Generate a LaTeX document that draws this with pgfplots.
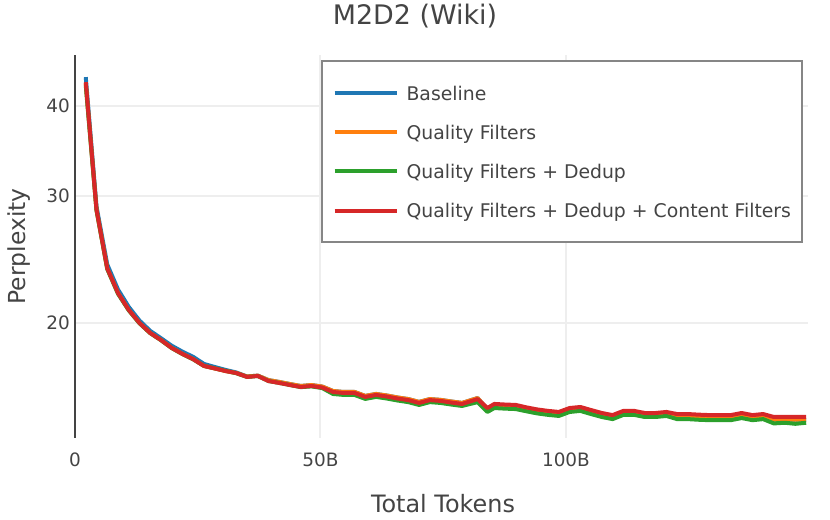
\documentclass[border=0pt]{standalone}
\usepackage{fontspec}
\setmainfont{DejaVu Sans}
\usepackage{pgfplots}
\usepackage{pgfplotstable}
\pgfplotsset{compat=1.18}
\usetikzlibrary{calc}

\definecolor{cblue}{HTML}{1F77B4}
\definecolor{corange}{HTML}{FF7F0E}
\definecolor{cgreen}{HTML}{2CA02C}
\definecolor{cred}{HTML}{D62728}
\definecolor{txt}{HTML}{444444}
\definecolor{gridc}{HTML}{EEEEEE}

% perplexity vs tokens (B)
\pgfplotstableread{
x      base   qf     qfd    qfdc
2.19   43.80  43.00  42.69  43.10
4.38   28.99  28.70  28.65  28.70
6.57   24.10  23.80  23.75  23.80
8.76   22.25  22.00  21.95  22.00
10.95  21.05  20.85  20.82  20.85
13.14  20.15  20.00  19.98  20.00
15.33  19.50  19.37  19.36  19.37
17.52  19.05  18.94  18.93  18.94
19.71  18.60  18.47  18.46  18.47
21.90  18.25  18.12  18.11  18.12
24.09  17.95  17.82  17.81  17.82
26.28  17.55  17.44  17.44  17.44
28.47  17.38  17.30  17.31  17.30
30.66  17.22  17.16  17.17  17.16
32.85  17.08  17.05  17.04  17.05
35.04  16.86  16.86  16.84  16.84
37.23  16.91  16.91  16.89  16.89
39.42  16.67  16.67  16.62  16.62
41.61  16.57  16.57  16.52  16.52
43.80  16.46  16.46  16.41  16.41
45.99  16.36  16.36  16.30  16.31
48.18  16.41  16.41  16.34  16.36
50.37  16.33  16.33  16.25  16.28
52.56  16.10  16.10  15.95  16.05
54.75  16.05  16.05  15.90  16.00
56.94  16.05  16.05  15.90  16.00
59.13  15.85  15.85  15.70  15.80
61.32  15.95  15.95  15.80  15.90
63.51  15.87  15.87  15.72  15.82
65.70  15.77  15.77  15.62  15.72
67.89  15.69  15.69  15.54  15.64
70.08  15.55  15.55  15.40  15.50
72.27  15.69  15.69  15.54  15.64
74.46  15.65  15.65  15.50  15.60
76.65  15.57  15.57  15.42  15.52
78.84  15.50  15.50  15.35  15.45
82.00  15.74  15.74  15.54  15.69
84.00  15.20  15.20  15.06  15.25
85.41  15.40  15.40  15.25  15.45
87.60  15.37  15.37  15.22  15.42
89.79  15.35  15.35  15.20  15.40
91.98  15.23  15.23  15.09  15.28
94.17  15.13  15.13  14.99  15.18
96.36  15.06  15.06  14.92  15.11
98.55  15.01  15.01  14.87  15.06
100.74 15.20  15.20  15.06  15.25
102.93 15.25  15.25  15.11  15.30
105.12 15.10  15.10  14.96  15.15
107.31 14.96  14.96  14.82  15.01
109.50 14.86  14.86  14.72  14.91
111.69 15.06  15.06  14.92  15.11
113.88 15.06  15.06  14.92  15.11
116.07 14.96  14.96  14.82  15.01
118.26 14.96  14.96  14.82  15.01
120.45 15.01  15.01  14.87  15.06
122.64 14.84  14.84  14.72  14.96
124.83 14.84  14.84  14.72  14.96
127.02 14.81  14.81  14.69  14.93
129.21 14.79  14.79  14.67  14.91
131.40 14.79  14.79  14.67  14.91
133.59 14.79  14.79  14.67  14.91
135.78 14.89  14.89  14.77  15.01
137.97 14.79  14.79  14.67  14.91
140.16 14.84  14.84  14.72  14.96
142.35 14.70  14.70  14.52  14.82
144.54 14.70  14.70  14.55  14.82
146.73 14.70  14.70  14.50  14.82
148.92 14.68  14.68  14.55  14.82
}\wiki

\begin{document}
\begin{tikzpicture}
\begin{axis}[
  name=ax,
  scale only axis,
  width=733bp, height=383bp,
  xmin=0, xmax=149.3,
  ymode=log, ymin=13.86, ymax=47.0,
  axis lines=left,
  x axis line style={draw=none},
  y axis line style={-, draw=txt, line width=2bp},
  xtick={0,50,100}, xticklabels={0,50B,100B},
  ytick={20,30,40}, yticklabels={20,30,40},
  minor ytick={}, log ticks with fixed point,
  major tick length=0pt,
  grid=major,
  major grid style={gridc, line width=2bp},
  /pgf/number format/assume math mode=true,
  tick label style={font=\fontsize{18.5}{22}\selectfont, text=txt},
  xticklabel style={inner sep=0pt, anchor=north, yshift=-15bp},
  yticklabel style={inner sep=0pt, anchor=east, xshift=-5bp},
  title={M2D2 (Wiki)},
  title style={font=\fontsize{27}{32}\selectfont, text=txt, at={(axis description cs:0.4638,1.0627)}, anchor=base, inner sep=0pt},
  xlabel={Total Tokens},
  xlabel style={font=\fontsize{24}{28}\selectfont, text=txt, at={(axis description cs:0.502,-0.1958)}, anchor=base, inner sep=0pt},
  ylabel={Perplexity},
  ylabel style={font=\fontsize{23.5}{28}\selectfont, text=txt, at={(axis description cs:-0.0682,0.5)}, anchor=base, inner sep=0pt, rotate=0},
  legend cell align=left,
  legend image code/.code={\draw[#1, line width=4bp] (0bp,0bp) -- (62bp,0bp);},
  legend style={at={(axis description cs:0.9932,0.9869)}, anchor=north east,
    draw=gray!95, line width=2bp, fill=white,
    inner xsep=11bp, inner ysep=23bp,
    column sep=8bp, row sep=21.8bp,
    font=\fontsize{18.9}{22}\selectfont, text=txt,
    nodes={inner sep=0pt, text height=16bp, text depth=1.5bp}},
  every axis plot/.append style={line width=4bp, line join=round, no markers},
]
\addplot[cblue] table[x=x, y=base] {\wiki};
\addlegendentry{Baseline}
\addplot[corange] table[x=x, y=qf] {\wiki};
\addlegendentry{Quality Filters}
\addplot[cgreen] table[x=x, y=qfd] {\wiki};
\addlegendentry{Quality Filters + Dedup}
\addplot[cred] table[x=x, y=qfdc] {\wiki};
\addlegendentry{Quality Filters + Dedup + Content Filters}
\end{axis}
\pgfresetboundingbox
\path[use as bounding box] ($(ax.south west)+(-75bp,-82bp)$) rectangle +(830bp,520bp);
\end{tikzpicture}
\end{document}
